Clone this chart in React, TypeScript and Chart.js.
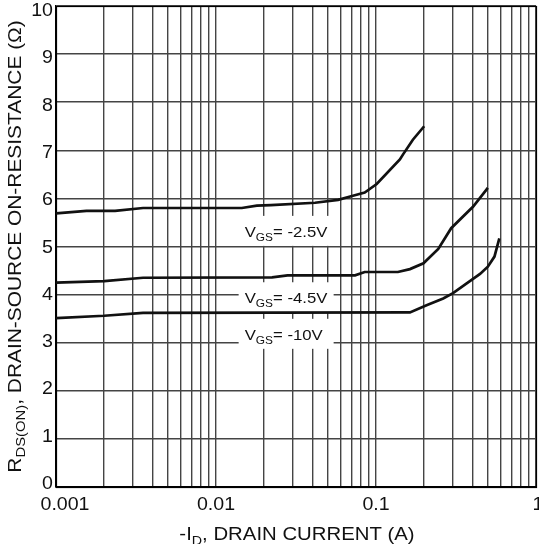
import React, { useEffect, useRef } from "react";
import { Chart, registerables } from "chart.js";

Chart.register(...registerables);

// ---- grid / tick data ----
const X_DECADES = [0.001, 0.01, 0.1];
const X_MULTIPLIERS = [1, 2, 3, 4, 5, 6, 7, 8, 9];
const X_TICK_VALUES = [0.001, 0.01, 0.1, 1];
const X_TICK_LABELS = ["0.001", "0.01", "0.1", "1"];
const Y_TICK_VALUES = [0, 1, 2, 3, 4, 5, 6, 7, 8, 9, 10];

// ---- series (drain current A, on-resistance ohm) ----
const VGS25_X = [0.001, 0.00155, 0.00234, 0.0035, 0.0145, 0.018, 0.022, 0.0416, 0.058, 0.069, 0.085, 0.101, 0.141, 0.148, 0.17, 0.2];
const VGS25_Y = [5.69, 5.74, 5.74, 5.8, 5.8, 5.85, 5.86, 5.91, 5.97, 6.04, 6.12, 6.3, 6.81, 6.92, 7.22, 7.5];

const VGS45_X = [0.001, 0.002, 0.0035, 0.0224, 0.028, 0.074, 0.085, 0.137, 0.163, 0.198, 0.245, 0.295, 0.405, 0.5];
const VGS45_Y = [4.25, 4.28, 4.35, 4.36, 4.4, 4.4, 4.47, 4.47, 4.53, 4.65, 4.95, 5.38, 5.83, 6.22];

const VGS10_X = [0.001, 0.002, 0.0035, 0.163, 0.207, 0.263, 0.303, 0.386, 0.447, 0.5, 0.55, 0.59];
const VGS10_Y = [3.51, 3.56, 3.62, 3.63, 3.78, 3.92, 4.03, 4.28, 4.43, 4.58, 4.79, 5.17];

// ---- in-plot labels ----
const LABEL_VALUES = ["= -2.5V", "= -4.5V", "= -10V"];
const LABEL_X = [0.0151, 0.0151, 0.0151];
const LABEL_Y = [5.2, 3.82, 3.06];

const FONT = "'Liberation Sans', Arial, Helvetica, sans-serif";
const STRETCH = 1.12;
const TEXT_COLOR = "#111";
const GRID_COLOR = "#444";

type Part = { t: string; size: number; dy: number };

function richWidth(ctx: CanvasRenderingContext2D, parts: Part[], s: number) {
  let w = 0;
  for (const p of parts) {
    ctx.font = `${p.size}px ${FONT}`;
    w += ctx.measureText(p.t).width * s;
  }
  return w;
}

function drawRich(
  ctx: CanvasRenderingContext2D,
  parts: Part[],
  x: number,
  y: number,
  align: "left" | "center" | "right",
  s: number
) {
  const w = richWidth(ctx, parts, s);
  let cx = align === "left" ? x : align === "center" ? x - w / 2 : x - w;
  ctx.textAlign = "left";
  ctx.textBaseline = "alphabetic";
  for (const p of parts) {
    ctx.font = `${p.size}px ${FONT}`;
    const pw = ctx.measureText(p.t).width * s;
    ctx.save();
    ctx.translate(cx, y + p.dy);
    ctx.scale(s, 1);
    ctx.fillText(p.t, 0, 0);
    ctx.restore();
    cx += pw;
  }
}

const X_GRID = X_DECADES.flatMap((d) => X_MULTIPLIERS.map((m) => Number((d * m).toPrecision(3)))).concat([1]);

const annotPlugin = {
  id: "annot",
  beforeDatasetsDraw(chart: any) {
    const { ctx, chartArea, scales } = chart;
    const xs = scales.x;
    const ys = scales.y;
    ctx.save();
    // label boxes (white, covering grid)
    ctx.fillStyle = "#ffffff";
    for (let i = 0; i < LABEL_VALUES.length; i++) {
      const tx = xs.getPixelForValue(LABEL_X[i]);
      const by = ys.getPixelForValue(LABEL_Y[i]);
      ctx.fillRect(tx - 6, by - 21, 95, 30);
    }
    // frame
    ctx.strokeStyle = "#000";
    ctx.lineWidth = 1.2;
    const l = Math.round(chartArea.left);
    const t = Math.round(chartArea.top);
    const r = Math.round(chartArea.right);
    const b = Math.round(chartArea.bottom);
    ctx.strokeRect(l + 0.5, t + 0.5, r - l, b - t);
    ctx.restore();
  },
  afterDraw(chart: any) {
    const { ctx, chartArea, scales } = chart;
    const xs = scales.x;
    const ys = scales.y;
    ctx.save();
    ctx.fillStyle = TEXT_COLOR;
    // label texts
    for (let i = 0; i < LABEL_VALUES.length; i++) {
      const tx = xs.getPixelForValue(LABEL_X[i]);
      const by = ys.getPixelForValue(LABEL_Y[i]);
      drawRich(
        ctx,
        [
          { t: "V", size: 15.5, dy: 0 },
          { t: "GS", size: 11, dy: 4 },
          { t: LABEL_VALUES[i], size: 15.5, dy: 0 },
        ],
        tx,
        by,
        "left",
        1.08
      );
    }
    // x tick labels
    for (let i = 0; i < X_TICK_VALUES.length; i++) {
      let px = xs.getPixelForValue(X_TICK_VALUES[i]);
      if (i === 0) px += 9;
      if (i === X_TICK_VALUES.length - 1) px += 2;
      drawRich(ctx, [{ t: X_TICK_LABELS[i], size: 17.5, dy: 0 }], px, chartArea.bottom + 23, "center", STRETCH);
    }
    // y tick labels
    for (const v of Y_TICK_VALUES) {
      const py = ys.getPixelForValue(v) + (v - 5) * 0.8;
      drawRich(ctx, [{ t: String(v), size: 17.5, dy: 0 }], chartArea.left - 3, py + 6, "right", STRETCH);
    }
    // x title
    drawRich(
      ctx,
      [
        { t: "-I", size: 18.5, dy: 0 },
        { t: "D", size: 13, dy: 5 },
        { t: ", DRAIN CURRENT (A)", size: 18.5, dy: 0 },
      ],
      (chartArea.left + chartArea.right) / 2 + 1,
      chartArea.bottom + 53,
      "center",
      1.1
    );
    // y title
    ctx.save();
    ctx.translate(20.7, (chartArea.top + chartArea.bottom) / 2);
    ctx.rotate(-Math.PI / 2);
    drawRich(
      ctx,
      [
        { t: "R", size: 19, dy: 0 },
        { t: "DS(ON)", size: 13.5, dy: 4.5 },
        { t: ", DRAIN-SOURCE ON-RESISTANCE (\u03A9)", size: 19, dy: 0 },
      ],
      0,
      0,
      "center",
      1.1
    );
    ctx.restore();
    ctx.restore();
  },
};

function toPoints(xs: number[], ys: number[]) {
  return xs.map((x, i) => ({ x, y: ys[i] }));
}

export default function App() {
  const ref = useRef<HTMLCanvasElement | null>(null);
  useEffect(() => {
    if (!ref.current) return;
    Chart.defaults.font.family = FONT;
    const lineStyle = {
      borderColor: "#111",
      borderWidth: 2.7,
      pointRadius: 0,
      tension: 0,
      fill: false,
    };
    const chart = new Chart(ref.current, {
      type: "line",
      data: {
        datasets: [
          { label: "VGS=-2.5V", data: toPoints(VGS25_X, VGS25_Y), ...lineStyle },
          { label: "VGS=-4.5V", data: toPoints(VGS45_X, VGS45_Y), ...lineStyle },
          { label: "VGS=-10V", data: toPoints(VGS10_X, VGS10_Y), ...lineStyle },
        ],
      },
      options: {
        responsive: false,
        animation: false,
        parsing: true,
        layout: { padding: { left: 56, right: 3, top: 6, bottom: 57 } },
        plugins: { legend: { display: false }, tooltip: { enabled: false } },
        scales: {
          x: {
            type: "logarithmic",
            min: 0.001,
            max: 1,
            afterBuildTicks: (axis: any) => {
              axis.ticks = X_GRID.map((v) => ({ value: v }));
            },
            ticks: { display: false },
            grid: { color: GRID_COLOR, lineWidth: 1.4, drawTicks: false },
            border: { display: true, color: "#000", width: 1.2 },
          },
          y: {
            type: "linear",
            min: 0,
            max: 10,
            ticks: { display: false, stepSize: 1 },
            grid: { color: GRID_COLOR, lineWidth: 1.4, drawTicks: false },
            border: { display: true, color: "#000", width: 1.2 },
          },
        },
      } as any,
      plugins: [annotPlugin],
    });
    return () => chart.destroy();
  }, []);
  return (
    <div style={{ position: "absolute", left: 0, top: 0, width: 539, height: 544, background: "#fff" }}>
      <canvas ref={ref} width={539} height={544} style={{ display: "block" }} />
    </div>
  );
}
